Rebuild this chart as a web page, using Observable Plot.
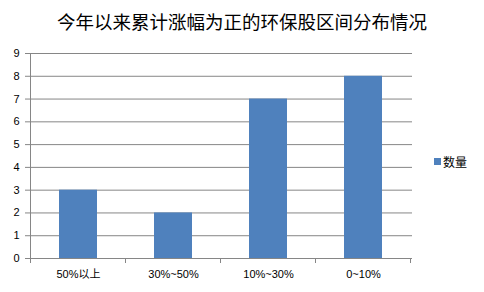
<!DOCTYPE html>
<html><head><meta charset="utf-8">
<script src="https://cdn.jsdelivr.net/npm/d3@7"></script>
<script src="https://cdn.jsdelivr.net/npm/@observablehq/plot@0.6"></script>
<style>
body{margin:0;background:#fff;}
#wrap{position:relative;width:484px;height:292px;font-family:"Liberation Sans","Noto Sans CJK SC",sans-serif;}
#title{position:absolute;left:0;top:8px;width:484px;text-align:center;font-size:18.5px;font-family:"Noto Sans CJK SC",sans-serif;color:#000;}
#legend{position:absolute;left:434px;top:153px;font-size:12px;font-family:"Noto Sans CJK SC",sans-serif;display:flex;align-items:center;}
#legend span.sw{display:inline-block;width:7px;height:7px;background:#4F81BD;margin-right:2px;}
</style></head>
<body><div id="wrap"><div id="title"></div><div id="legend"></div></div>
<script>
const titleText = "今年以来累计涨幅为正的环保股区间分布情况";
const seriesName = "数量";
const categories = ["50%以上", "30%~50%", "10%~30%", "0~10%"];
const values = [3, 2, 7, 8];
const yTicks = [0,1,2,3,4,5,6,7,8,9];

const data = categories.map((c, i) => ({cat: c, v: values[i]}));

const plot = Plot.plot({
  width: 484, height: 292,
  marginLeft: 29, marginRight: 72, marginTop: 53, marginBottom: 34,
  style: {fontFamily: "'Liberation Sans','Noto Sans CJK SC',sans-serif", fontSize: "11px", color: "#000", background: "#fff"},
  x: {domain: categories, paddingInner: 0.6, paddingOuter: 0.3, label: null},
  y: {domain: [0, 9], label: null},
  marks: [
    Plot.gridY(yTicks, {stroke: "#868686", strokeOpacity: 1}),
    Plot.axisY(yTicks, {tickSize: 4, tickPadding: 6, stroke: "#868686", fontSize: 11}),
    Plot.barY(data, {x: "cat", y: "v", fill: "#4F81BD"}),
    Plot.axisX({tickSize: 0, tickPadding: 12, fontSize: 11}),
    Plot.ruleY([0], {stroke: "#868686"})
  ]
});
document.getElementById("title").textContent = titleText;
document.getElementById("legend").innerHTML = '<span class="sw"></span>' + seriesName;
document.getElementById("wrap").appendChild(plot);

// axis line and band-boundary ticks via the plot's own scales
const x = plot.scale("x"), y = plot.scale("y");
const svg = d3.select(plot);
const y0 = y.apply(0), y9 = y.apply(9);
const gap = (x.step - x.bandwidth) / 2;
const bounds = categories.map(c => x.apply(c) - gap);
bounds.push(x.apply(categories[categories.length-1]) + x.bandwidth + gap);
const g = svg.append("g").attr("stroke", "#868686");
g.append("line").attr("x1", bounds[0]).attr("x2", bounds[0]).attr("y1", y9).attr("y2", y0);
bounds.forEach(b => g.append("line").attr("x1", b).attr("x2", b).attr("y1", y0).attr("y2", y0 + 5));
</script></body></html>
